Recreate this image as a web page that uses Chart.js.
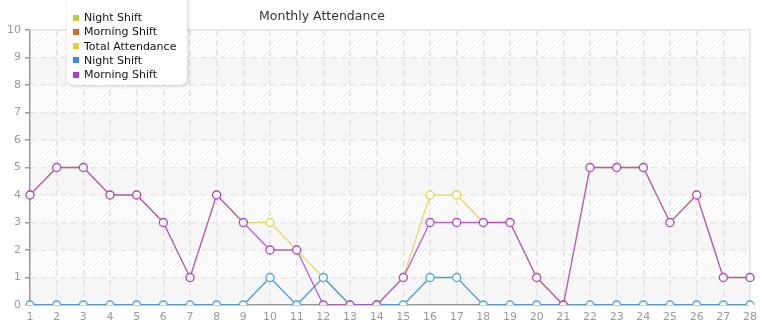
<!DOCTYPE html>
<html>
<head>
<meta charset="utf-8">
<script src="https://cdn.jsdelivr.net/npm/chart.js@4"></script>
<style>
  html, body { margin: 0; padding: 0; background: #fff; }
  #wrap { position: relative; width: 765px; height: 320px; }
  #legend {
    position: absolute; left: 67px; top: -6px; width: 120px;
    background: #fff; border-radius: 6px;
    box-shadow: 1px 1px 4px rgba(0,0,0,0.18);
    padding: 17px 0 3px 0;
    font: 11px "DejaVu Sans", sans-serif; color: #111;
  }
  #legend div { height: 14.3px; line-height: 14px; white-space: nowrap; }
  #legend span {
    display: inline-block; width: 6px; height: 6px;
    margin: 0 5px 1px 6px; vertical-align: middle;
  }
</style>
</head>
<body>
<div id="wrap">
  <canvas id="chart" width="765" height="320"></canvas>
  <div id="legend"></div>
</div>
<script>
const days = ['1','2','3','4','5','6','7','8','9','10','11','12','13','14',
  '15','16','17','18','19','20','21','22','23','24','25','26','27','28'];
const morningShift = [4,5,5,4,4,3,1,4,3,2,2,0,0,0,1,3,3,3,3,1,0,5,5,5,3,4,1,1];
const nightShift   = [0,0,0,0,0,0,0,0,0,1,0,1,0,0,0,1,1,0,0,0,0,0,0,0,0,0,0,0];
const totalAttendance = [4,5,5,4,4,3,1,4,3,3,2,1,0,0,1,4,4,3,3,1,0,5,5,5,3,4,1,1];
// the first two legend entries draw nothing in the picture
const nightShiftEmpty = [];
const morningShiftEmpty = [];
const yTicks = [0,1,2,3,4,5,6,7,8,9,10];

function series(label, data, line, point, legendColor, order) {
  return {
    label, data, order, legendColor,
    borderColor: line, borderWidth: 1.3,
    pointRadius: 4, pointBorderWidth: 1.3,
    pointBorderColor: point, pointBackgroundColor: '#fff',
    tension: 0
  };
}

// hatched plot background with alternating bands
const hatch = document.createElement('canvas');
hatch.width = 5; hatch.height = 5;
const hc = hatch.getContext('2d');
hc.strokeStyle = '#efefef';
hc.lineWidth = 1;
hc.beginPath();
hc.moveTo(0, 5); hc.lineTo(5, 0);
hc.moveTo(-1, 1); hc.lineTo(1, -1);
hc.moveTo(4, 6); hc.lineTo(6, 4);
hc.stroke();

const backdrop = {
  id: 'backdrop',
  beforeDraw(chart) {
    const { ctx, chartArea: a, scales: { y } } = chart;
    ctx.save();
    ctx.fillStyle = '#fff';
    ctx.fillRect(a.left, a.top, a.right - a.left, a.bottom - a.top);
    ctx.fillStyle = ctx.createPattern(hatch, 'repeat');
    ctx.fillRect(a.left, a.top, a.right - a.left, a.bottom - a.top);
    ctx.fillStyle = 'rgba(244,244,244,0.6)';
    for (let v = 0; v < 10; v += 2) {
      const t = y.getPixelForValue(v + 1), b = y.getPixelForValue(v);
      ctx.fillRect(a.left, t, a.right - a.left, b - t);
    }
    ctx.restore();
  },
  beforeDatasetsDraw(chart) {
    const { ctx, chartArea: a } = chart;
    ctx.save();
    ctx.strokeStyle = '#e8e8e8';
    ctx.lineWidth = 2;
    ctx.beginPath();
    ctx.moveTo(a.left, a.top); ctx.lineTo(a.right, a.top); ctx.lineTo(a.right, a.bottom);
    ctx.stroke();
    ctx.restore();
  },
  afterDraw(chart) {
    const ctx = chart.ctx;
    ctx.save();
    ctx.fillStyle = '#333';
    ctx.font = '12.5px "DejaVu Sans", sans-serif';
    ctx.textAlign = 'center';
    ctx.textBaseline = 'middle';
    ctx.fillText('Monthly Attendance', 322, 17);
    ctx.restore();
  }
};

const chart = new Chart(document.getElementById('chart'), {
  type: 'line',
  data: {
    labels: days,
    datasets: [
      series('Night Shift', nightShiftEmpty, '#b5d334', '#b5d334', '#b8d430', 5),
      series('Morning Shift', morningShiftEmpty, '#e06a30', '#e06a30', '#e0642c', 4),
      series('Total Attendance', totalAttendance, 'rgba(226,214,70,0.85)', '#e4d84a', '#e2d232', 3),
      series('Night Shift', nightShift, 'rgba(52,150,222,0.9)', '#45a6e6', '#3392e2', 2),
      series('Morning Shift', morningShift, 'rgba(172,56,204,0.8)', '#b048d0', '#b236dc', 1)
    ]
  },
  options: {
    responsive: false,
    animation: false,
    layout: { padding: { top: 30, right: 15, left: 0, bottom: 0 } },
    plugins: { legend: { display: false }, tooltip: { enabled: false } },
    scales: {
      x: {
        offset: false,
        afterFit: s => { s.height = 15; },
        grid: { color: '#e2e2e2', lineWidth: 1.5, drawTicks: false },
        border: { color: '#999', width: 1.5, dash: [6, 4] },
        ticks: { color: '#999', font: { family: 'DejaVu Sans', size: 11 }, padding: 6, maxRotation: 0, autoSkip: false }
      },
      y: {
        min: 0, max: 10,
        afterFit: s => { s.width = 30; },
        afterBuildTicks: s => { s.ticks = yTicks.map(v => ({ value: v })); },
        grid: {
          color: ctx => ctx.tick && ctx.tick.value === 0 ? 'rgba(0,0,0,0)' : '#e6e6e6',
          lineWidth: 1.5, tickLength: 5, tickColor: '#999'
        },
        border: { color: '#999', width: 1.5, dash: [6, 4] },
        ticks: { color: '#999', font: { family: 'DejaVu Sans', size: 11 }, padding: 4 }
      }
    }
  },
  plugins: [backdrop]
});

const legend = document.getElementById('legend');
chart.data.datasets.forEach(ds => {
  const row = document.createElement('div');
  const sw = document.createElement('span');
  sw.style.background = ds.legendColor;
  row.appendChild(sw);
  row.appendChild(document.createTextNode(ds.label));
  legend.appendChild(row);
});
</script>
</body>
</html>
